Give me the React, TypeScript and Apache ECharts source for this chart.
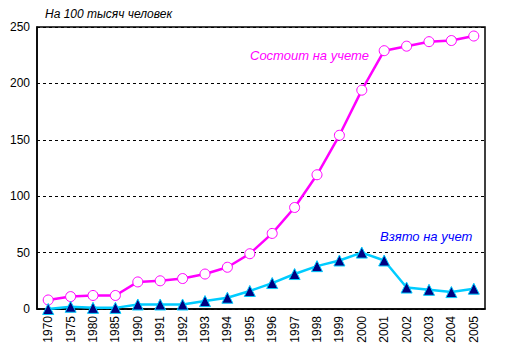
import React, { useEffect, useRef } from "react";
import * as echarts from "echarts";

const years = ["1970", "1975", "1980", "1985", "1990", "1991", "1992", "1993", "1994", "1995", "1996", "1997", "1998", "1999", "2000", "2001", "2002", "2003", "2004", "2005"];
const registered = [8, 11, 12, 12, 24, 25, 27, 31, 37, 49, 67, 90, 119, 154, 194, 229, 233, 237, 238, 242];
const newlyTaken = [0, 2, 1, 1, 4, 4, 4, 7, 10, 16, 23, 31, 38, 43, 50, 43, 19, 17, 15, 18];
const yTicks = [0, 50, 100, 150, 200, 250];

const FONT = "Liberation Sans, Arial, sans-serif";

export default function App() {
  const ref = useRef<HTMLDivElement>(null);
  useEffect(() => {
    const chart = echarts.init(ref.current!, null, { renderer: "svg" });
    chart.setOption({
      animation: false,
      backgroundColor: "#ffffff",
      grid: { left: 37, right: 28, top: 27, bottom: 47, show: true, borderColor: "#000", borderWidth: 1.5 },
      title: {
        text: "На 100 тысяч человек",
        left: 40,
        top: 3,
        textStyle: { fontFamily: FONT, fontSize: 12, fontStyle: "italic", fontWeight: "normal", color: "#000" },
      },
      xAxis: {
        type: "category",
        data: years,
        boundaryGap: true,
        axisLine: { lineStyle: { color: "#000", width: 1.5 } },
        axisTick: { show: false },
        axisLabel: { rotate: 90, interval: 0, fontFamily: FONT, fontSize: 12, color: "#000", margin: 7 },
      },
      yAxis: {
        type: "value",
        min: yTicks[0],
        max: yTicks[yTicks.length - 1],
        interval: 50,
        axisLine: { show: true, lineStyle: { color: "#000", width: 1.5 } },
        axisTick: { show: false },
        axisLabel: { fontFamily: FONT, fontSize: 12, color: "#000", margin: 7 },
        splitLine: { lineStyle: { color: "#000", type: [3, 3], width: 1 } },
      },
      series: [
        {
          name: "Состоит на учете",
          type: "line",
          data: registered,
          symbol: "circle",
          symbolSize: 10,
          lineStyle: { color: "#ff00ff", width: 2.5 },
          itemStyle: { color: "#ffffff", borderColor: "#ff00ff", borderWidth: 1 },
          z: 3,
        },
        {
          name: "Взято на учет",
          type: "line",
          data: newlyTaken,
          symbol: "triangle",
          symbolSize: 11,
          lineStyle: { color: "#00ccff", width: 2.5 },
          itemStyle: { color: "#000080", borderColor: "#00ccff", borderWidth: 1 },
          z: 4,
        },
      ],
      graphic: [
        {
          type: "text",
          left: 250,
          top: 49,
          style: { text: "Состоит на учете", fontFamily: FONT, fontSize: 13, fontStyle: "italic", fill: "#ff00ff" },
        },
        {
          type: "text",
          left: 380,
          top: 230,
          style: { text: "Взято на учет", fontFamily: FONT, fontSize: 13, fontStyle: "italic", fill: "#0000ff" },
        },
      ],
    });
    return () => chart.dispose();
  }, []);
  return <div ref={ref} style={{ position: "fixed", left: 0, top: 0, width: 513, height: 356 }} />;
}
